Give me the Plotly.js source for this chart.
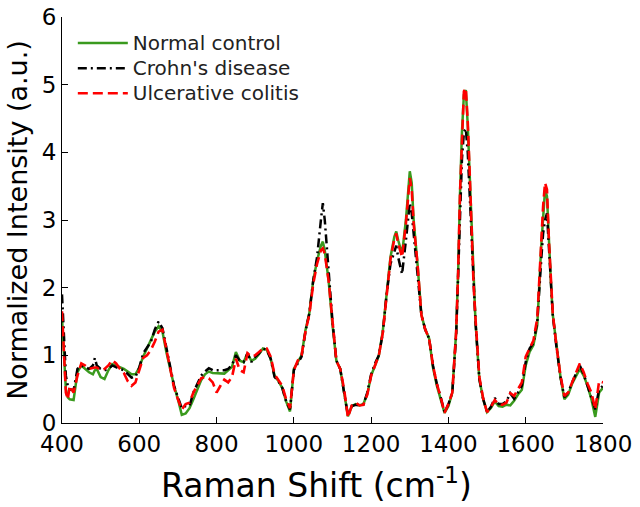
<!DOCTYPE html>
<html>
<head>
<meta charset="utf-8">
<script src="https://cdn.plot.ly/plotly-3.0.1.min.js"></script>
<style>html,body{margin:0;padding:0;background:#fff;}#chart{width:640px;height:507px;}</style>
</head>
<body>
<div id="chart"></div>
<script>
const ramanShift = [400,405,410,415,420,430,440,450,460,470,
480,485,490,500,510,520,530,540,550,560,
570,580,590,600,610,620,630,640,650,660,
670,680,690,700,710,720,730,740,750,760,
770,780,790,800,810,820,830,840,850,860,
870,880,890,900,910,920,930,940,950,960,
970,980,990,1000,1010,1020,1030,1040,1050,1060,
1070,1075,1080,1090,1100,1110,1120,1130,1140,1150,
1160,1170,1180,1190,1200,1210,1220,1230,1240,1250,
1260,1265,1270,1280,1290,1300,1305,1310,1320,1330,
1340,1350,1360,1370,1380,1390,1400,1410,1420,1425,
1430,1435,1440,1445,1450,1455,1460,1465,1470,1480,
1490,1500,1510,1520,1530,1540,1550,1560,1570,1580,
1590,1600,1610,1620,1630,1640,1645,1650,1655,1660,
1665,1670,1680,1690,1700,1710,1720,1730,1740,1750,
1760,1770,1780,1790,1800];

const normalControl = [1.55,0.9,0.5,0.38,0.35,0.34,0.75,0.85,0.8,0.75,
0.72,0.78,0.8,0.68,0.65,0.78,0.87,0.85,0.83,0.8,
0.76,0.72,0.72,0.82,0.98,1.1,1.22,1.35,1.43,1.35,
1.05,0.8,0.55,0.35,0.12,0.14,0.22,0.35,0.5,0.63,
0.72,0.76,0.74,0.74,0.73,0.73,0.78,0.83,1.05,0.92,
0.9,1.03,0.92,0.95,1.02,1.1,1.08,0.95,0.7,0.62,
0.52,0.32,0.17,0.8,0.9,1.0,1.37,1.62,2.1,2.4,
2.62,2.68,2.55,2.1,1.45,0.92,0.8,0.45,0.1,0.25,
0.28,0.26,0.28,0.43,0.7,0.85,1.0,1.35,1.95,2.45,
2.75,2.83,2.7,2.5,3.0,3.72,3.55,3.0,2.35,1.6,
1.38,1.25,0.82,0.55,0.35,0.15,0.25,0.45,1.35,2.2,
3.4,4.3,4.85,4.92,4.4,3.6,2.8,2.0,1.5,0.65,
0.35,0.16,0.22,0.32,0.25,0.24,0.27,0.26,0.33,0.42,
0.49,0.85,1.05,1.15,1.45,2.6,3.1,3.45,3.35,2.65,
2.1,1.6,1.1,0.68,0.35,0.42,0.58,0.7,0.8,0.7,
0.55,0.35,0.09,0.45,0.52];

const crohnsDisease = [1.9,1.2,0.7,0.55,0.5,0.48,0.8,0.85,0.82,0.8,
0.85,0.96,0.85,0.8,0.78,0.8,0.85,0.82,0.8,0.78,
0.72,0.67,0.68,0.82,1.03,1.12,1.2,1.38,1.5,1.4,
1.1,0.8,0.55,0.38,0.22,0.25,0.25,0.45,0.58,0.7,
0.76,0.81,0.78,0.78,0.78,0.78,0.8,0.86,1.0,0.92,
0.9,1.03,0.9,0.98,1.03,1.1,1.08,0.95,0.68,0.62,
0.52,0.32,0.2,0.78,0.88,0.98,1.35,1.62,2.1,2.45,
3.0,3.25,3.0,2.2,1.5,0.92,0.8,0.45,0.12,0.25,
0.27,0.26,0.27,0.45,0.72,0.88,1.0,1.32,1.9,2.35,
2.55,2.62,2.45,2.2,2.7,3.25,3.1,2.8,2.3,1.6,
1.38,1.25,0.85,0.58,0.38,0.16,0.28,0.45,1.3,2.1,
3.1,3.9,4.3,4.35,4.0,3.4,2.7,2.0,1.5,0.65,
0.35,0.16,0.24,0.37,0.28,0.28,0.32,0.44,0.36,0.45,
0.55,0.9,1.1,1.18,1.5,2.4,2.8,3.0,3.1,2.6,
2.1,1.6,1.1,0.68,0.38,0.45,0.6,0.72,0.85,0.72,
0.55,0.4,0.2,0.5,0.55];

const ulcerativeColitis = [1.65,1.0,0.45,0.35,0.55,0.45,0.7,0.88,0.85,0.8,
0.82,0.82,0.82,0.78,0.8,0.85,0.93,0.88,0.8,0.74,
0.62,0.55,0.6,0.8,0.96,1.0,1.08,1.2,1.35,1.38,
1.08,0.78,0.52,0.35,0.2,0.28,0.3,0.45,0.55,0.66,
0.68,0.66,0.6,0.45,0.55,0.64,0.6,0.68,0.95,0.78,
0.75,1.03,0.98,1.0,1.05,1.1,1.1,0.98,0.72,0.63,
0.55,0.35,0.22,0.78,0.92,1.0,1.35,1.6,2.05,2.35,
2.55,2.58,2.5,2.1,1.45,0.92,0.8,0.5,0.08,0.26,
0.3,0.26,0.27,0.42,0.7,0.85,1.0,1.33,1.92,2.42,
2.72,2.8,2.65,2.45,2.95,3.62,3.45,2.95,2.35,1.6,
1.38,1.25,0.85,0.58,0.38,0.15,0.28,0.45,1.35,2.2,
3.4,4.3,4.9,4.95,4.45,3.7,2.85,2.05,1.55,0.68,
0.36,0.16,0.24,0.34,0.27,0.27,0.3,0.44,0.4,0.5,
0.6,0.98,1.1,1.22,1.55,2.7,3.2,3.55,3.45,2.7,
2.15,1.62,1.12,0.7,0.4,0.45,0.6,0.75,0.88,0.75,
0.58,0.45,0.2,0.62,0.6];

const seriesNames = ["Normal control", "Crohn's disease", "Ulcerative colitis"];
const xTicks = [400,600,800,1000,1200,1400,1600,1800];
const yTicks = [0,1,2,3,4,5,6];
const xTitle = 'Raman Shift (cm<sup>-1</sup>)';
const yTitle = 'Normalized Intensity (a.u.)';

const FONT = "DejaVu Sans, Verdana, sans-serif";
const legendLabel = s => '<span style="font-size:20px">' + s + '</span>';

const traces = [
  {x: ramanShift, y: normalControl, name: legendLabel(seriesNames[0]), type: 'scatter', mode: 'lines',
   line: {color: '#3a9a1e', width: 2.5}},
  {x: ramanShift, y: crohnsDisease, name: legendLabel(seriesNames[1]), type: 'scatter', mode: 'lines',
   line: {color: '#000000', width: 2.5, dash: '9px,4px,2px,4px'}},
  {x: ramanShift, y: ulcerativeColitis, name: legendLabel(seriesNames[2]), type: 'scatter', mode: 'lines',
   line: {color: '#ff0000', width: 2.6, dash: '10px,5px'}}
];

const layout = {
  width: 640, height: 507,
  margin: {l: 62, r: 37, t: 17, b: 84, pad: 0},
  paper_bgcolor: '#ffffff', plot_bgcolor: '#ffffff',
  font: {family: FONT, color: '#000000'},
  showlegend: true,
  legend: {x: 0.02, y: 0.979, xanchor: 'left', yanchor: 'top', bgcolor: 'rgba(0,0,0,0)',
           borderwidth: 0, font: {family: FONT, size: 17, color: '#222'}, itemwidth: 50,
           tracegroupgap: 0},
  xaxis: {range: [400, 1800], tickvals: xTicks, ticktext: xTicks.map(String),
          showline: true, linecolor: '#000', linewidth: 1, mirror: false,
          ticks: 'inside', ticklen: 6, tickcolor: '#000', tickwidth: 1,
          showgrid: false, zeroline: false, automargin: false,
          tickfont: {family: FONT, size: 23, color: '#000'}},
  yaxis: {range: [0, 6], tickvals: yTicks, ticktext: yTicks.map(String),
          showline: true, linecolor: '#000', linewidth: 1, mirror: false,
          ticks: 'inside', ticklen: 6, tickcolor: '#000', tickwidth: 1,
          showgrid: false, zeroline: false, automargin: false,
          tickfont: {family: FONT, size: 23, color: '#000'},
          title: {text: yTitle, font: {family: FONT, size: 27, color: '#000'}, standoff: 6}},
  annotations: [
    {text: xTitle, xref: 'paper', yref: 'paper', x: 0.471, y: -0.148,
     xanchor: 'center', yanchor: 'middle', showarrow: false,
     font: {family: FONT, size: 33, color: '#000'}}
  ]
};

Plotly.newPlot('chart', traces, layout, {displayModeBar: false, staticPlot: true});
</script>
</body>
</html>
